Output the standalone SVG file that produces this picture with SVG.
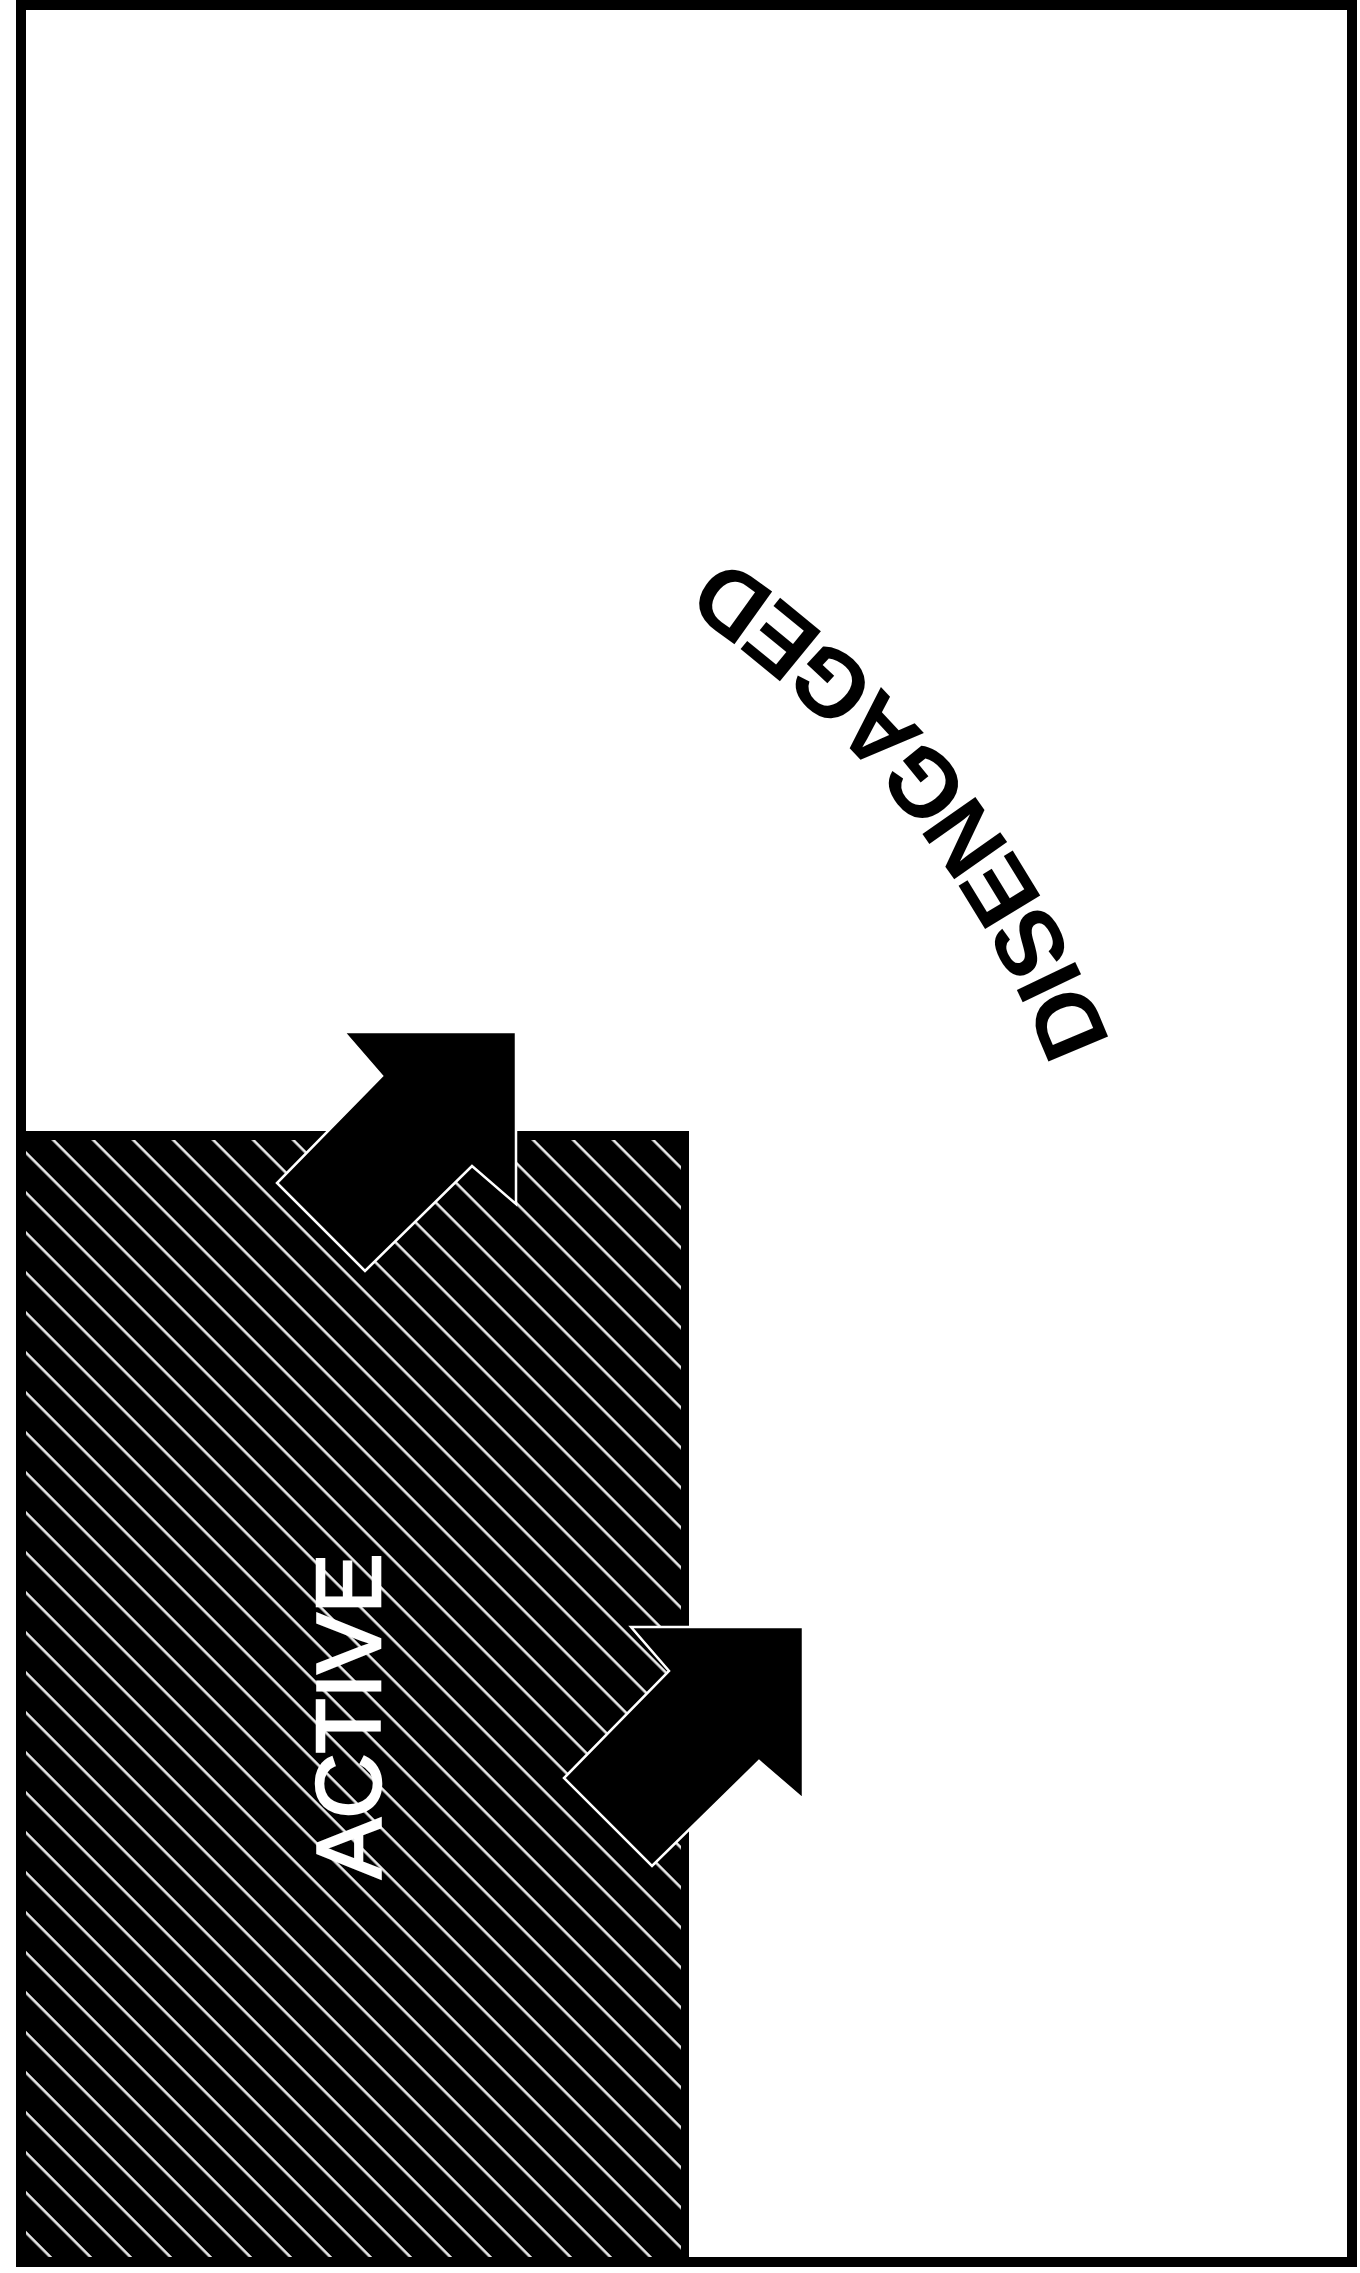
<svg xmlns="http://www.w3.org/2000/svg" xmlns:xlink="http://www.w3.org/1999/xlink" width="1360" height="2273" viewBox="0 0 1360 2273">
  <style>
    .lbl { font-family: "Liberation Sans", Arial, sans-serif; }
    .arrow { fill: #000; stroke: #fff; stroke-width: 2.5; stroke-linejoin: miter; }
  </style>
  <defs>
    <pattern id="hatch" patternUnits="userSpaceOnUse" width="10" height="28.28" patternTransform="translate(0,5) rotate(45)">
      <rect x="0" y="0" width="10" height="2.6" fill="#e8e8e8"/>
    </pattern>
    <path id="bigArrow" d="M0,0 L0,172 L-44,134 L-151,239 L-239,151 L-134,44 L-172,0 Z"/>
    <path id="arcPath" d="M1166.5,1256.4 A1027,1027 0 0 0 525.7,453.8"/>
  </defs>

  <rect x="0" y="0" width="1360" height="2273" fill="#fff"/>

  <g id="active-region">
    <rect x="21" y="1131" width="668" height="1131" fill="#000"/>
    <rect x="26" y="1140" width="655" height="1117" fill="url(#hatch)"/>
    <text class="lbl" x="0" y="0" transform="translate(380,1716) rotate(-90)" text-anchor="middle" font-size="90" fill="#fff" stroke="#fff" stroke-width="2.5">ACTIVE</text>
  </g>

  <g id="disengaged-label">
    <text class="lbl" font-size="94" font-weight="bold" fill="#000">
      <textPath href="#arcPath" xlink:href="#arcPath" startOffset="50%" text-anchor="middle">DISENGAGED</textPath>
    </text>
  </g>

  <g id="connectors">
    <use href="#bigArrow" xlink:href="#bigArrow" class="arrow" transform="translate(516,1032)"/>
    <use href="#bigArrow" xlink:href="#bigArrow" class="arrow" transform="translate(803,1627)"/>
  </g>

  <g id="frame">
    <rect x="21" y="5" width="1331" height="2257" fill="none" stroke="#000" stroke-width="10"/>
  </g>
</svg>
